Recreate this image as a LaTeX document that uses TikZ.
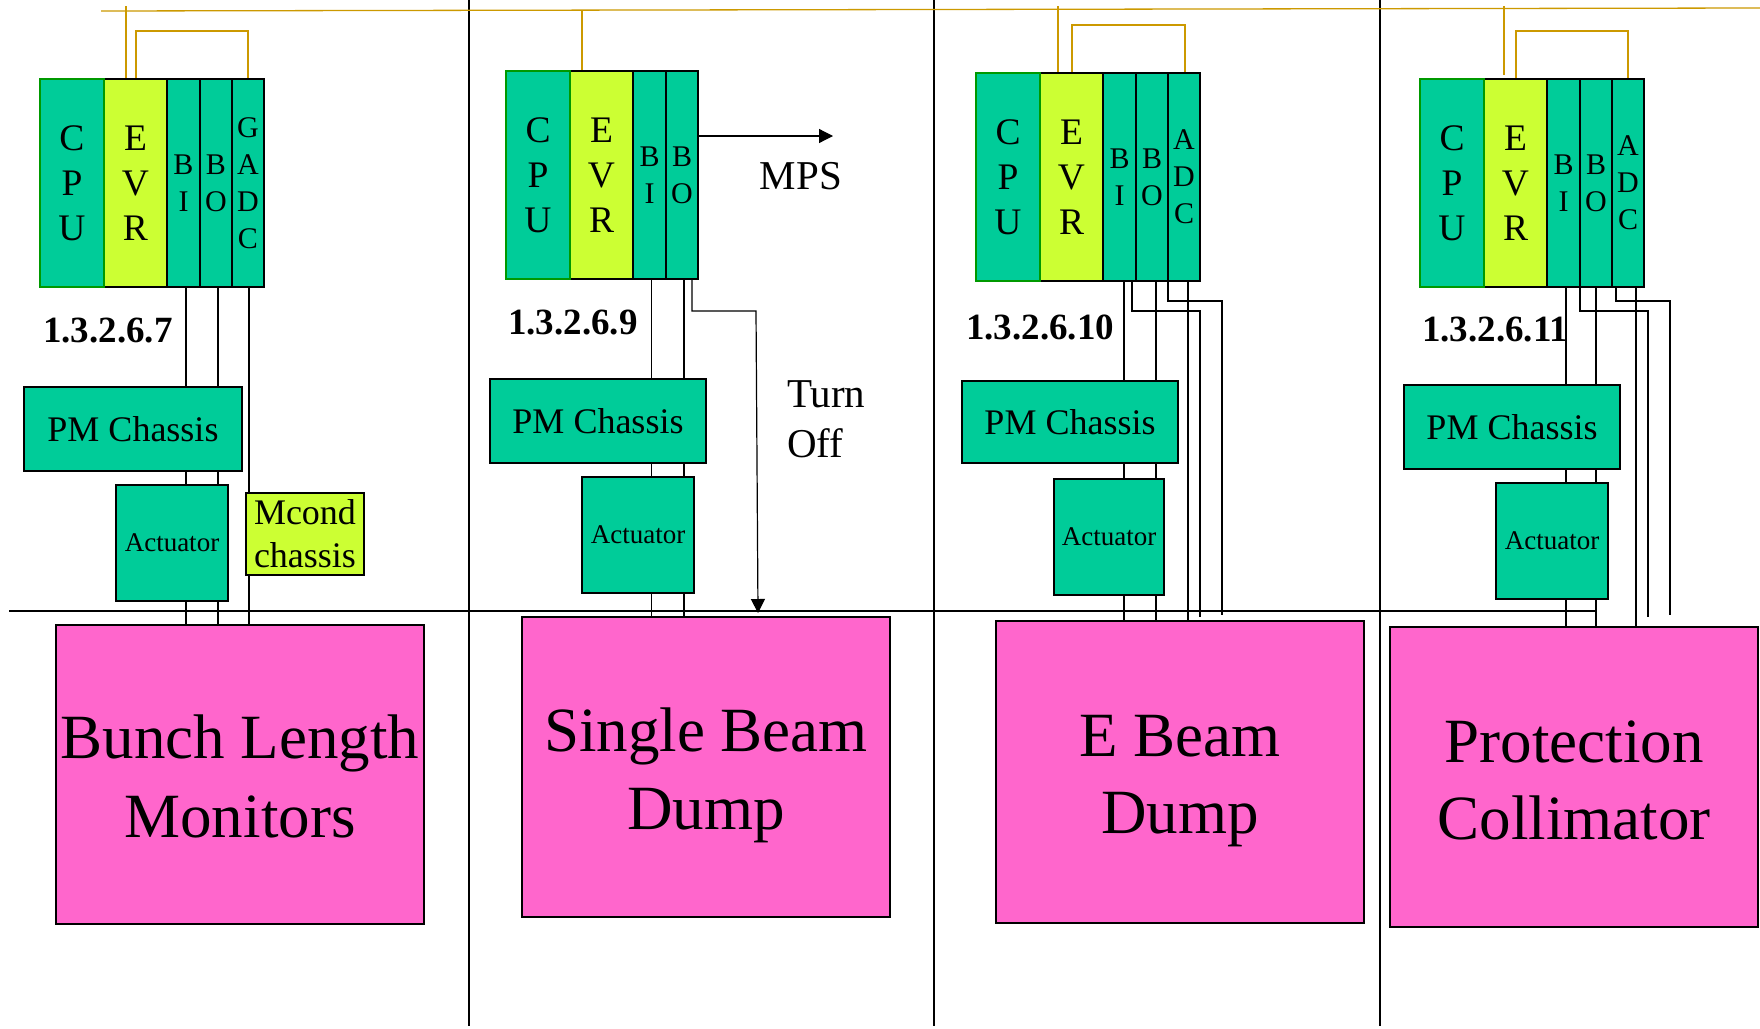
\documentclass[tikz,border=0pt]{standalone}
\usepackage{fontspec}
\setmainfont{Liberation Serif}
\usetikzlibrary{arrows.meta}
\pgfdeclarelayer{bgzero}
\pgfdeclarelayer{background}
\pgfsetlayers{bgzero,background,main}
\definecolor{teal1}{HTML}{00CC99}
\definecolor{lime1}{HTML}{CCFF33}
\definecolor{pink1}{HTML}{FF66CC}
\definecolor{gold1}{HTML}{CC9900}
\definecolor{green1}{HTML}{009900}
\newcommand\mkrack[3]{%
  \node[evrbox,colbig,minimum width=63pt] (#1evr) at ({#2+64},#3) {E\\V\\R};
  \node[slot,colsmall,minimum width=33pt] (#1bi) at ({#2+127},#3) {B\\I};
  \node[slot,colsmall,minimum width=32pt] (#1bo) at ({#2+160},#3) {B\\O};
  \node[cpubox,colbig,minimum width=64pt] (#1cpu) at (#2,#3) {C\\P\\U};
}
\begin{document}
\begin{tikzpicture}[x=1pt,y=-1pt,
  every node/.style={inner sep=0pt, outer sep=0pt},
  boxbase/.style={draw=black, line width=1.5pt, anchor=north west},
  modcol/.style={boxbase, minimum height=208pt, align=center},
  cpubox/.style={modcol, fill=teal1, draw=green1},
  evrbox/.style={modcol, fill=lime1},
  slot/.style={modcol, fill=teal1},
  colbig/.style={font=\fontsize{37.5}{45}\selectfont},
  colsmall/.style={font=\fontsize{30}{37}\selectfont},
  pmbox/.style={boxbase, fill=teal1, font=\fontsize{36}{43}\selectfont},
  actbox/.style={boxbase, fill=teal1, font=\fontsize{27}{32}\selectfont},
  mcondbox/.style={boxbase, fill=lime1, align=center, font=\fontsize{36}{43}\selectfont},
  pinkbox/.style={boxbase, fill=pink1},
  bigtext/.style={anchor=base, font=\fontsize{63}{76}\selectfont},
  idlabel/.style={anchor=base west, font=\bfseries\fontsize{37}{44}\selectfont},
  notetext/.style={font=\fontsize{41}{49}\selectfont},
  wire/.style={draw=black, line width=1.2pt},
  divider/.style={draw=black, line width=1.3pt},
  bus/.style={draw=gold1, line width=1.3pt},
  arrowhd/.style={-{Triangle[length=14pt,width=14pt]}}
]
\begin{pgfonlayer}{bgzero}
  \fill[white] (0,0) rectangle (1760,1028);
\end{pgfonlayer}
\useasboundingbox (0,0) rectangle (1760,1028);

% global coordinates
\coordinate (busL) at (101,11);
\coordinate (busR) at (1760,8);
\coordinate (bustop) at (0,6);
\coordinate (hlL) at (9,611);
\coordinate (hlR) at (1595,611);
\coordinate (s1t) at (469,0);   \coordinate (s1b) at (469,1026);
\coordinate (s2t) at (934,0);   \coordinate (s2b) at (934,1026);
\coordinate (s3t) at (1380,0);  \coordinate (s3b) at (1380,1026);

% ---------- panel 1 ----------
\mkrack{p1}{40}{79}
\node[slot,colsmall,minimum width=32pt] (p1adc) at (232,79) {G\\A\\D\\C};
\node[idlabel] (p1id) at (43,342) {1.3.2.6.7};
\node[pmbox,minimum width=218pt,minimum height=84pt] (p1pm) at (24,387) {PM Chassis};
\node[actbox,minimum width=112pt,minimum height=116pt] (p1act) at (116,485) {Actuator};
\node[mcondbox,minimum width=118pt,minimum height=82pt] (p1mc) at (246,493) {Mcond\\chassis};
\node[pinkbox,minimum width=368pt,minimum height=299pt] (p1pink) at (56,625) {};
\node[bigtext] (p1t1) at (240,758) {Bunch Length};
\node[bigtext] (p1t2) at (240,837) {Monitors};
\coordinate (p1b) at (200,31);

% ---------- panel 2 ----------
\mkrack{p2}{506}{71}
\node[idlabel] (p2id) at (508,334) {1.3.2.6.9};
\node[pmbox,minimum width=216pt,minimum height=84pt] (p2pm) at (490,379) {PM Chassis};
\node[actbox,minimum width=112pt,minimum height=116pt] (p2act) at (582,477) {Actuator};
\node[pinkbox,minimum width=368pt,minimum height=300pt] (p2pink) at (522,617) {};
\node[bigtext] (p2t1) at (706,751) {Single Beam};
\node[bigtext] (p2t2) at (706,829) {Dump};
\coordinate (p2mps) at (833,136);
\node[notetext,anchor=base] (mpslbl) at (801,189) {MPS};
\node[notetext,anchor=base west] (turn1) at (787,407) {Turn};
\node[notetext,anchor=base west] (turn2) at (787,457) {Off};
\coordinate (p2j1) at (756,311);
\coordinate (p2e1) at (758,613);

% ---------- panel 3 ----------
\mkrack{p3}{976}{73}
\node[slot,colsmall,minimum width=32pt] (p3adc) at (1168,73) {A\\D\\C};
\node[idlabel] (p3id) at (966,339) {1.3.2.6.10};
\node[pmbox,minimum width=216pt,minimum height=82pt] (p3pm) at (962,381) {PM Chassis};
\node[actbox,minimum width=110pt,minimum height=116pt] (p3act) at (1054,479) {Actuator};
\node[pinkbox,minimum width=368pt,minimum height=302pt] (p3pink) at (996,621) {};
\node[bigtext] (p3t1) at (1180,756) {E Beam};
\node[bigtext] (p3t2) at (1180,833) {Dump};
\coordinate (p3b) at (1100,25);
\coordinate (p3j1) at (1200,311);
\coordinate (p3e1) at (1200,617);
\coordinate (p3j2) at (1222,301);
\coordinate (p3e2) at (1222,615);

% ---------- panel 4 ----------
\mkrack{p4}{1420}{79}
\node[slot,colsmall,minimum width=32pt] (p4adc) at (1612,79) {A\\D\\C};
\node[idlabel] (p4id) at (1422,341) {1.3.2.6.11};
\node[pmbox,minimum width=216pt,minimum height=84pt] (p4pm) at (1404,385) {PM Chassis};
\node[actbox,minimum width=112pt,minimum height=116pt] (p4act) at (1496,483) {Actuator};
\node[pinkbox,minimum width=368pt,minimum height=300pt] (p4pink) at (1390,627) {};
\node[bigtext] (p4t1) at (1574,762) {Protection};
\node[bigtext] (p4t2) at (1574,839) {Collimator};
\coordinate (p4b) at (1550,31);
\coordinate (p4j1) at (1648,311);
\coordinate (p4e1) at (1648,617);
\coordinate (p4j2) at (1670,301);
\coordinate (p4e2) at (1670,615);
\coordinate (p4st) at (1504,75);

\begin{pgfonlayer}{background}
  % dividers
  \draw[divider] (s1t) -- (s1b);
  \draw[divider] (s2t) -- (s2b);
  \draw[divider] (s3t) -- (s3b);
  \draw[divider] (hlL) -- (hlR);
  % timing bus
  \draw[bus] (busL) -- (busR);
  \draw[bus] ([xshift=22pt]p1evr.north west) -- ([xshift=22pt]p1evr.north west |- bustop);
  \draw[bus] ([xshift=32pt]p1evr.north west) |- (p1b) -| (p1adc.north);
  \draw[bus] ([xshift=12pt]p2evr.north west) -- ([xshift=12pt]p2evr.north west |- busL);
  \draw[bus] ([xshift=18pt]p3evr.north west) -- ([xshift=18pt]p3evr.north west |- bustop);
  \draw[bus] ([xshift=32pt]p3evr.north west) |- (p3b) -| ([xshift=1pt]p3adc.north);
  \draw[bus] (p4st) -- (p4st |- bustop);
  \draw[bus] ([xshift=32pt]p4evr.north west) |- (p4b) -| (p4adc.north);
  % panel 1 wires
  \draw[wire] ([xshift=2.5pt]p1bi.south) -- ([xshift=2.5pt]p1bi.south |- p1pink.north);
  \draw[wire] ([xshift=2pt]p1bo.south) -- ([xshift=2pt]p1bo.south |- p1pink.north);
  \draw[wire] ([xshift=1pt]p1adc.south) -- ([xshift=1pt]p1adc.south |- p1pink.north);
  % panel 2 wires
  \draw[wire] ([xshift=2pt]p2bi.south) -- ([xshift=2pt]p2bi.south |- p2pink.north);
  \draw[wire] ([xshift=2pt]p2bo.south) -- ([xshift=2pt]p2bo.south |- p2pink.north);
  \draw[wire,arrowhd] (p2mps -| p2bo.east) -- (p2mps);
  \draw[wire,arrowhd] ([xshift=10pt]p2bo.south) |- (p2j1) -- (p2e1);
  % panel 3 wires
  \draw[wire] ([xshift=4.5pt]p3bi.south) -- ([xshift=4.5pt]p3bi.south |- p3pink.north);
  \draw[wire] ([xshift=4pt]p3bo.south) -- ([xshift=4pt]p3bo.south |- p3pink.north);
  \draw[wire] ([xshift=4pt]p3adc.south) -- ([xshift=4pt]p3adc.south |- p3pink.north);
  \draw[wire] ([xshift=-4pt]p3bi.south east) |- (p3j1) -- (p3e1);
  \draw[wire] (p3adc.south west) |- (p3j2) -- (p3e2);
  % panel 4 wires
  \draw[wire] ([xshift=2.5pt]p4bi.south) -- ([xshift=2.5pt]p4bi.south |- p4pink.north);
  \draw[wire] (p4bo.south) -- (p4bo.south |- p4pink.north);
  \draw[wire] ([xshift=8pt]p4adc.south) -- ([xshift=8pt]p4adc.south |- p4pink.north);
  \draw[wire] (p4bi.south east) |- (p4j1) -- (p4e1);
  \draw[wire] ([xshift=4pt]p4adc.south west) |- (p4j2) -- (p4e2);
\end{pgfonlayer}
\end{tikzpicture}
\end{document}
